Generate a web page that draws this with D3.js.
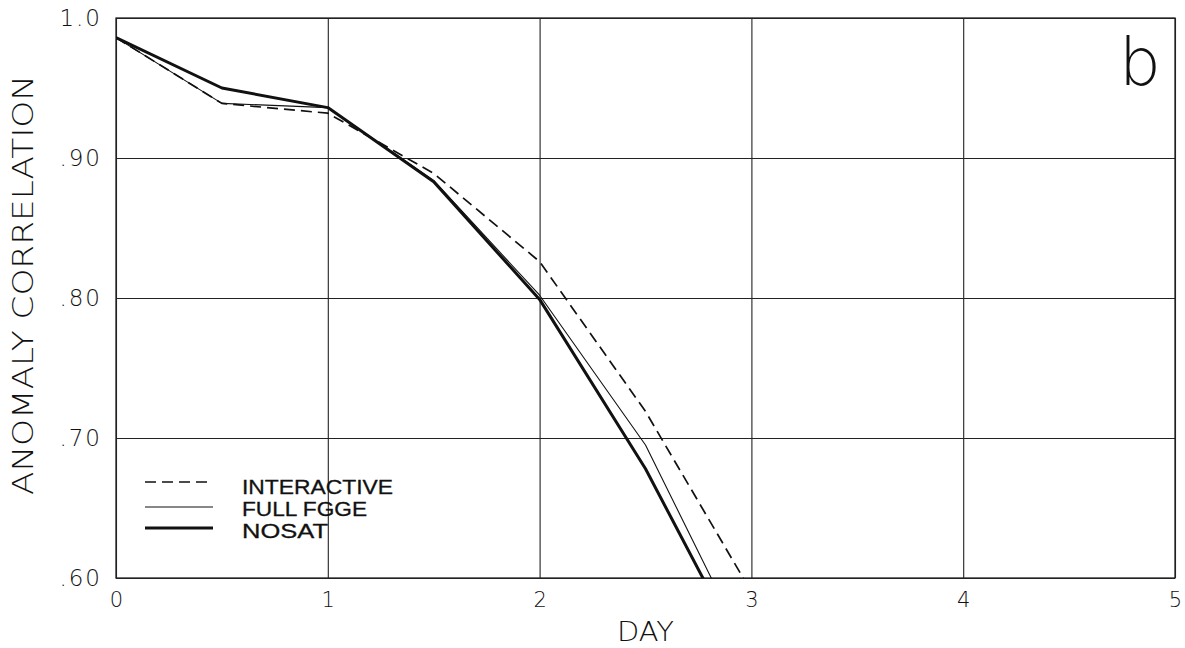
<!DOCTYPE html>
<html>
<head>
<meta charset="utf-8">
<script src="https://cdn.jsdelivr.net/npm/d3@7"></script>
<style>
  html, body { margin: 0; padding: 0; background: #fff; }
  svg { display: block; }
  text { fill: #111; }
</style>
</head>
<body>
<script>
// ---- Data ----
const days        = [0, 0.5, 1, 1.5, 2, 2.5, 3];
const interactive = [0.986, 0.939, 0.932, 0.889, 0.826, 0.719, 0.590];
const fullFgge    = [0.986, 0.939, 0.936, 0.884, 0.802, 0.695, 0.542];
const nosat       = [0.986, 0.950, 0.936, 0.883, 0.799, 0.678, 0.534];

const xTicks = [0, 1, 2, 3, 4, 5];
const xTickLabels = ["0", "1", "2", "3", "4", "5"];
const yTicks = [0.6, 0.7, 0.8, 0.9, 1.0];
const yTickLabels = [".60", ".70", ".80", ".90", "1.0"];

const seriesNames = ["INTERACTIVE", "FULL FGGE", "NOSAT"];
const xTitle = "DAY";
const yTitle = "ANOMALY CORRELATION";
const panelLabel = "b";

// ---- Layout ----
const W = 1185, H = 648;
const margin = { left: 116, right: 10, top: 18, bottom: 70 };
const pw = W - margin.left - margin.right;   // 1059
const ph = H - margin.top - margin.bottom;   // 560

const svg = d3.select("body").append("svg").attr("width", W).attr("height", H);
const g = svg.append("g").attr("transform", `translate(${margin.left},${margin.top})`);

const x = d3.scaleLinear().domain([0, 5]).range([0, pw]);
const y = d3.scaleLinear().domain([0.6, 1.0]).range([ph, 0]);

// Grid lines via axes
const gx = g.append("g").attr("transform", `translate(0,${ph})`)
  .call(d3.axisBottom(x).tickValues(xTicks).tickSize(-ph)
        .tickFormat((d, i) => xTickLabels[i]).tickPadding(14));
gx.select(".domain").remove();
gx.selectAll("line").attr("stroke", "#222").attr("stroke-width", 1.1);
gx.selectAll("text").attr("font-family", "'DejaVu Sans', sans-serif").attr("font-weight", 200)
  .attr("font-size", 21).attr("fill", "#111");

const gy = g.append("g")
  .call(d3.axisLeft(y).tickValues(yTicks).tickSize(-pw)
        .tickFormat((d, i) => yTickLabels[i]).tickPadding(14));
gy.select(".domain").remove();
gy.selectAll("line").attr("stroke", "#222").attr("stroke-width", 1.1);
gy.selectAll("text").attr("font-family", "'DejaVu Sans', sans-serif").attr("font-weight", 200)
  .attr("font-size", 23).attr("letter-spacing", 2).attr("fill", "#111");

// Frame
g.append("rect").attr("x", 0).attr("y", 0).attr("width", pw).attr("height", ph)
  .attr("fill", "none").attr("stroke", "#222").attr("stroke-width", 1.3);

// Clip
svg.append("defs").append("clipPath").attr("id", "plotclip")
  .append("rect").attr("x", 0).attr("y", 0).attr("width", pw).attr("height", ph);

const styles = [
  { data: interactive, width: 1.7, dash: "11,6" },
  { data: fullFgge,    width: 1.1, dash: null },
  { data: nosat,       width: 3.0, dash: null }
];

const line = d3.line().x(d => x(d[0])).y(d => y(d[1]));
const lines = g.append("g").attr("clip-path", "url(#plotclip)");
styles.forEach(s => {
  const pts = days.map((d, i) => [d, s.data[i]]);
  lines.append("path").datum(pts).attr("d", line)
    .attr("fill", "none").attr("stroke", "#111")
    .attr("stroke-width", s.width)
    .attr("stroke-linejoin", "round")
    .attr("stroke-dasharray", s.dash);
});

// Legend
const legendY = [482, 507, 528];
const legendTextY = [494, 516, 538];
const legendLen = [151, 125, 86];
styles.forEach((s, i) => {
  svg.append("line").attr("x1", 145).attr("x2", 213)
    .attr("y1", legendY[i]).attr("y2", legendY[i])
    .attr("stroke", "#111").attr("stroke-width", s.width)
    .attr("stroke-dasharray", s.dash);
  svg.append("text").attr("x", 242).attr("y", legendTextY[i])
    .attr("font-family", "'Liberation Sans', Arial, sans-serif")
    .attr("font-size", 20)
    .attr("textLength", legendLen[i]).attr("lengthAdjust", "spacingAndGlyphs")
    .attr("stroke", "#111").attr("stroke-width", 0.3)
    .text(seriesNames[i]);
});

// Axis titles
svg.append("text").attr("x", margin.left + pw / 2).attr("y", 641)
  .attr("text-anchor", "middle")
  .attr("font-family", "'DejaVu Sans', sans-serif").attr("font-weight", 200)
  .attr("font-size", 27).attr("textLength", 57).attr("lengthAdjust", "spacingAndGlyphs")
  .text(xTitle);

svg.append("text").attr("transform", "translate(33,285) rotate(-90)")
  .attr("text-anchor", "middle")
  .attr("font-family", "'DejaVu Sans', sans-serif").attr("font-weight", 200)
  .attr("font-size", 28).attr("textLength", 420).attr("lengthAdjust", "spacingAndGlyphs")
  .text(yTitle);

// Panel label
svg.append("text").attr("x", 1140).attr("y", 85).attr("text-anchor", "middle")
  .attr("font-family", "'DejaVu Sans', sans-serif").attr("font-weight", 200)
  .attr("font-size", 66)
  .text(panelLabel);
</script>
</body>
</html>
